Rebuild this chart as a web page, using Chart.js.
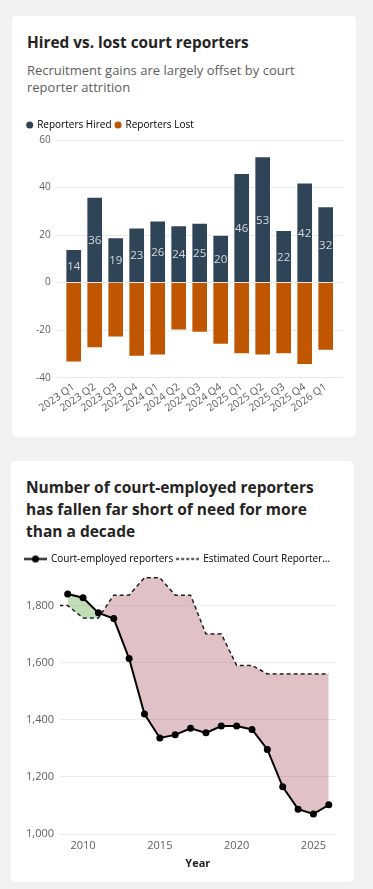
<!DOCTYPE html>
<html>
<head>
<meta charset="utf-8">
<script src="https://cdn.jsdelivr.net/npm/chart.js@4.4.1/dist/chart.umd.min.js"></script>
<style>
  body { margin: 0; background: #f2f2f2; font-family: 'Segoe UI', 'Open Sans', sans-serif; }
  .card { position: absolute; background: #fff; border-radius: 5px; }
  .txt { position: absolute; margin: 0; white-space: normal; }
  .title { font-weight: 700; color: #252423; }
  .sub { color: #605e5c; }
  canvas { position: absolute; }
</style>
</head>
<body>
<div class="card" style="left:12px;top:16px;width:344px;height:421px"></div>
<div class="card" style="left:11px;top:461px;width:343px;height:421px"></div>

<div class="txt title" style="left:27px;top:33px;font-size:15.4px;line-height:20px">Hired vs. lost court reporters</div>
<div class="txt sub" style="left:27px;top:62px;width:305px;font-size:13px;line-height:17px">Recruitment gains are largely offset by court reporter attrition</div>
<canvas id="hiredChart" width="344" height="326" style="left:12px;top:110px"></canvas>

<div class="txt title" style="left:26px;top:476px;width:315px;font-size:15.5px;line-height:22px">Number of court-employed reporters has fallen far short of need for more than a decade</div>
<canvas id="staffChart" width="343" height="334" style="left:11px;top:548px"></canvas>

<script>
// quarterly hires / losses
const quarters = ['2023 Q1','2023 Q2','2023 Q3','2023 Q4','2024 Q1','2024 Q2','2024 Q3','2024 Q4','2025 Q1','2025 Q2','2025 Q3','2025 Q4','2026 Q1'];
const hired = [14, 36, 19, 23, 26, 24, 25, 20, 46, 53, 22, 42, 32];
const lost = [-33.5, -27.5, -23, -31, -30.5, -20, -21, -26, -30, -30.5, -30, -34.5, -28.5];
const hiredTicks = [-40, -20, 0, 20, 40, 60];

// yearly headcount vs estimated need
const years = [2009,2010,2011,2012,2013,2014,2015,2016,2017,2018,2019,2020,2021,2022,2023,2024,2025,2026];
const employed = [1840,1827,1774,1754,1614,1420,1336,1347,1370,1354,1378,1378,1366,1296,1165,1087,1070,1102];
const needYears = [2008,2009,2010,2011,2012,2013,2014,2015,2016,2017,2018,2019,2020,2021,2022,2023,2024,2025,2026];
const needed = [1800,1800,1756,1756,1836,1836,1897,1897,1836,1836,1700,1700,1590,1590,1560,1560,1560,1560,1560];
const yearTicks = [2010, 2015, 2020, 2025];
const staffTicks = [1000, 1200, 1400, 1600, 1800];

const FONT = "'Segoe UI', 'Open Sans', sans-serif";
Chart.defaults.font.family = FONT;
Chart.defaults.color = '#605e5c';

function toPoints(xs, ys){
    var out = [];
    for(var i = 0; i < ys.length; i++){
        out.push({x: xs[i], y: ys[i]});
    }
    return out;
}

function setTicks(list){
    return function(scale){
        scale.ticks = list.map(function(v){ return {value: v}; });
    };
}

// draws the hired count in the middle of each bar
const barLabels = {
    id: 'barLabels',
    afterDatasetsDraw(chart){
        const ctx = chart.ctx;
        const meta = chart.getDatasetMeta(0);
        ctx.save();
        ctx.font = '11.5px ' + FONT;
        ctx.fillStyle = '#d6dadf';
        ctx.textAlign = 'center';
        ctx.textBaseline = 'middle';
        meta.data.forEach(function(bar, i){
            ctx.fillText(hired[i], bar.x, (bar.y + bar.base) / 2 + 1);
        });
        ctx.restore();
    }
};

const qIndex = quarters.map(function(q, i){ return i; });

new Chart(document.getElementById('hiredChart'), {
    type: 'bar',
    data: {
        datasets: [{
            label: 'Reporters Hired',
            data: toPoints(qIndex, hired),
            backgroundColor: '#2f4456',
            borderColor: 'rgba(255,255,255,0.55)',
            borderWidth: 1,
            barThickness: 16
        }, {
            label: 'Reporters Lost',
            data: toPoints(qIndex, lost),
            backgroundColor: '#c05600',
            borderColor: 'rgba(255,255,255,0.5)',
            borderWidth: 1,
            barThickness: 16
        }]
    },
    options: {
        responsive: false,
        animation: false,
        layout: { padding: { left: 11.2, top: 2, right: 0, bottom: 0 } },
        plugins: {
            tooltip: { enabled: false },
            legend: {
                align: 'start',
                labels: {
                    usePointStyle: true,
                    pointStyle: 'circle',
                    boxWidth: 5,
                    boxHeight: 5,
                    padding: 4,
                    color: '#605e5c',
                    font: { size: 10 },
                    generateLabels: function(chart){
                        return chart.data.datasets.map(function(ds, i){
                            return { text: ds.label, fillStyle: ds.backgroundColor, strokeStyle: ds.backgroundColor,
                                     lineWidth: 0, pointStyle: 'circle', datasetIndex: i, hidden: false };
                        });
                    }
                }
            }
        },
        scales: {
            x: {
                type: 'linear',
                stacked: true,
                offset: false,
                min: -0.81,
                max: 12.81,
                grid: { display: false, drawTicks: false },
                border: { display: false },
                afterBuildTicks: setTicks(qIndex),
                afterFit: function(s){ s.height = 58.3; s.paddingLeft = 0; s.paddingRight = 13.3; },
                ticks: {
                    autoSkip: false,
                    minRotation: 35,
                    maxRotation: 35,
                    padding: 3,
                    font: { size: 10.5 },
                    callback: function(v){ return quarters[v]; }
                }
            },
            y: {
                stacked: true,
                min: -40,
                max: 60,
                grid: { color: '#e8e8e8', drawTicks: false },
                border: { display: false },
                afterBuildTicks: setTicks(hiredTicks),
                afterFit: function(s){ s.width = 33.5; s.paddingTop = 30; },
                ticks: { padding: 6, font: { size: 10 } }
            }
        }
    },
    plugins: [barLabels]
});

// legend markers: line with dot, dashed line
function makeMarker(dashed){
    const c = document.createElement('canvas');
    c.width = 23; c.height = 9;
    const g = c.getContext('2d');
    g.strokeStyle = '#000';
    g.lineWidth = dashed ? 1.5 : 2;
    if(dashed) g.setLineDash([3, 2]);
    g.beginPath(); g.moveTo(0, 4.5); g.lineTo(23, 4.5); g.stroke();
    if(!dashed){
        g.fillStyle = '#000';
        g.beginPath(); g.arc(11.5, 4.5, 3.5, 0, Math.PI * 2); g.fill();
    }
    return c;
}
const markers = [makeMarker(false), makeMarker(true)];

new Chart(document.getElementById('staffChart'), {
    type: 'line',
    data: {
        datasets: [{
            label: 'Court-employed reporters',
            data: toPoints(years, employed),
            borderColor: '#000',
            borderWidth: 2,
            pointRadius: 3.5,
            pointBackgroundColor: '#000',
            pointBorderWidth: 0,
            tension: 0,
            fill: { target: 1, above: 'rgba(78,161,55,0.35)', below: 'rgba(166,78,89,0.35)' }
        }, {
            label: 'Estimated Court Reporters Needed',
            data: toPoints(needYears, needed),
            borderColor: '#111',
            borderWidth: 1.5,
            borderDash: [4, 3],
            pointRadius: 0,
            tension: 0,
            fill: false
        }]
    },
    options: {
        responsive: false,
        animation: false,
        layout: { padding: { left: 10, top: 2, right: 0, bottom: 0 } },
        plugins: {
            tooltip: { enabled: false },
            legend: {
                align: 'start',
                labels: {
                    usePointStyle: true,
                    pointStyleWidth: 21,
                    boxHeight: 9,
                    padding: 4,
                    color: '#605e5c',
                    font: { size: 10 },
                    generateLabels: function(chart){
                        return chart.data.datasets.map(function(ds, i){
                            var t = ds.label.length > 24 ? ds.label.slice(0, 24) + '...' : ds.label;
                            return { text: t, pointStyle: markers[i], lineWidth: 0, datasetIndex: i, hidden: false };
                        });
                    }
                }
            }
        },
        scales: {
            x: {
                type: 'linear',
                min: 2008.5,
                max: 2026.45,
                grid: { display: false, drawTicks: false },
                border: { display: false },
                afterBuildTicks: setTicks(yearTicks),
                afterFit: function(s){ s.height = 48; s.paddingLeft = 0; s.paddingRight = 18.3; },
                ticks: { padding: 5, font: { size: 11 }, callback: function(v){ return String(v); } },
                title: { display: true, text: 'Year', color: '#252423', font: { size: 11, weight: 'bold' }, padding: { top: 2, bottom: 12 } }
            },
            y: {
                min: 1000,
                max: 1910,
                grid: { color: '#ececec', drawTicks: false },
                border: { display: false },
                afterBuildTicks: setTicks(staffTicks),
                afterFit: function(s){ s.width = 39; s.paddingTop = 26; },
                ticks: { padding: 6, font: { size: 11 } }
            }
        }
    }
});
</script>
</body>
</html>
